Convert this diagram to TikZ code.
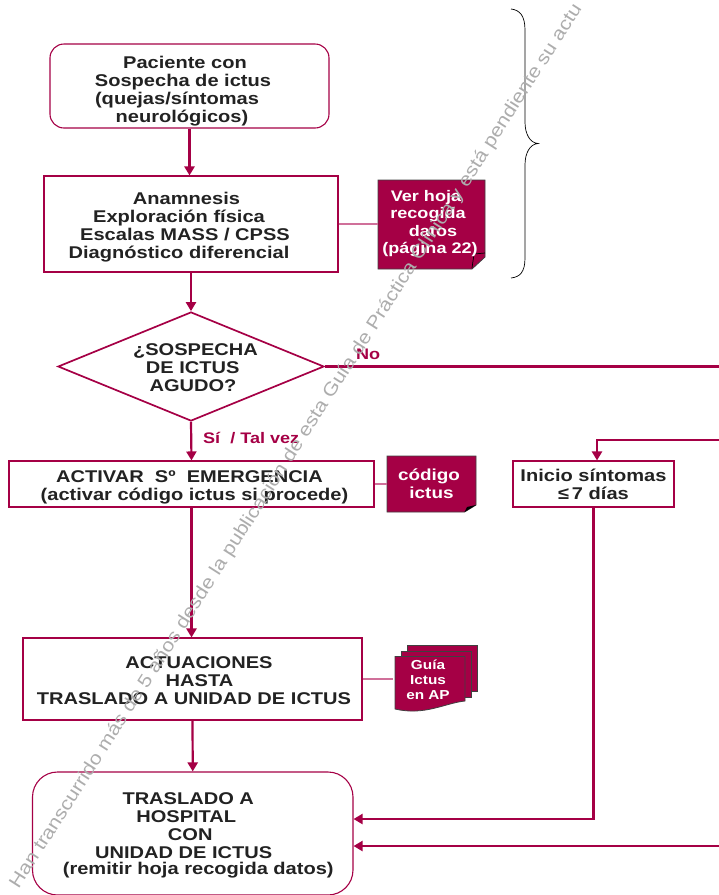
\documentclass[tikz,border=0pt]{standalone}
\usepackage{fontspec}
\setmainfont{Liberation Sans}[FakeStretch=1.18]
\newfontfamily\wmfont{Liberation Sans}[FakeStretch=1.147]
\usetikzlibrary{arrows.meta,shapes.geometric}
\definecolor{mag}{HTML}{A50045}
\definecolor{magl}{HTML}{D0709A}
\definecolor{ink}{HTML}{222222}
\def\tlnlower{0pt}
\newcommand\tln[2]{\makebox[0pt][c]{\kern #1pt\kern #1pt\relax\raisebox{-\tlnlower}[0pt][0pt]{#2}}}
\tikzset{
  x=1pt,y=-1pt,
  every node/.style={font=\bfseries\fontsize{17}{18}\selectfont,text=ink,inner sep=0pt,align=center},
  lowered/.code={\def\tlnlower{#1}},
  flowbox/.style={draw=mag,line width=1.1pt},
  rbox/.style={flowbox,rounded corners=#1},
  decide/.style={diamond,draw=mag,line width=1.7pt},
  flow/.style={draw=mag,line width=2.2pt,-{Triangle[width=10pt,length=9pt]}},
  flowplain/.style={draw=mag,line width=2.2pt},
  tie/.style={draw=magl,line width=1.2pt},
  docfill/.style={fill=mag,draw=black!75,line width=0.8pt},
  doctext/.style={text=white},
  tag/.style={text=mag,anchor=west},
}
\begin{document}
\begin{tikzpicture}
\useasboundingbox (0,0) rectangle (719,895);
% boxes
\node (paciente) [rbox=14pt,minimum width=279pt,minimum height=84pt,lowered=9.5pt] at (189.5,86) {\tln{-4.5}{Paciente con}\\\tln{-6.5}{Sospecha de ictus}\\\tln{-12.5}{(quejas/síntomas}\\\tln{-7.5}{neurológicos)}};
\node (anamnesis) [flowbox,minimum width=294pt,minimum height=96pt,lowered=7pt] at (191,224) {\tln{-4.5}{Anamnesis}\\\tln{-12}{Exploración física}\\\tln{-6}{Escalas MASS / CPSS}\\\tln{-12}{Diagnóstico diferencial}};
\node (sospecha) [decide,minimum width=266pt,minimum height=109pt,lowered=7pt] at (191,366.5) {\tln{4.5}{¿SOSPECHA}\\\tln{1.7}{DE ICTUS}\\\tln{2}{AGUDO?}};
\node (activar) [flowbox,minimum width=365pt,minimum height=46pt,lowered=7.5pt] at (191.5,484) {\tln{-2}{ACTIVAR\ \ Sº\ \ EMERGENCIA}\\\tln{3}{(activar código ictus si procede)}};
\node (inicio) [flowbox,minimum width=161pt,minimum height=46pt] at (593.5,484) {Inicio síntomas\\≤\,7 días};
\node (actuaciones) [flowbox,minimum width=339pt,minimum height=82pt,lowered=7pt] at (192.5,679) {\tln{6.5}{ACTUACIONES}\\\tln{7}{HASTA}\\\tln{1.5}{TRASLADO A UNIDAD DE ICTUS}};
\node (hospital) [rbox=25pt,minimum width=320.5pt,minimum height=123pt,lowered=6pt] at (192.75,833.5) {\tln{-4.5}{TRASLADO A}\\\tln{-6.5}{HOSPITAL}\\\tln{-2.5}{CON}\\\tln{-9}{UNIDAD DE ICTUS}\\[-1.5pt]\tln{5.5}{(remitir hoja recogida datos)}};
% documents
\path[docfill] (378,180) -- (485,180) -- (485,257) -- (472,269) -- (378,269) -- cycle;
\draw[black,line width=0.7pt] (472,268) -- (474,254) -- (485,253);
\node (hoja) [doctext,font=\bfseries\fontsize{15.3}{17.3}\selectfont,minimum width=107pt,minimum height=89pt,lowered=5.5pt] at (431.5,222) {\tln{-5.5}{Ver hoja}\\\tln{-3.5}{recogida}\\\tln{1.5}{datos}\\\tln{-1.5}{(página 22)}};
\path[docfill] (387,456) -- (476,456) -- (476,505) -- (464.5,512) -- (387,512) -- cycle;
\path[fill=black] (464.5,512) -- (467,507) -- (476,505) -- cycle;
\node (codigo) [doctext,minimum width=89pt,minimum height=56pt,font=\bfseries\fontsize{16}{18}\selectfont,lowered=6pt] at (431.5,483) {\tln{-2.5}{código}\\\tln{0}{ictus}};
\path[docfill] (407,645) -- (477,645) -- (477,691) -- (407,691) -- cycle;
\path[docfill] (401,651) -- (471,651) -- (471,697) -- (401,697) -- cycle;
\path[docfill] (395,656.5) -- (465,656.5) -- (465,701) .. controls (445,703) and (425,716) .. (395,709) -- cycle;
\node (guia) [doctext,minimum width=70pt,minimum height=42pt,font=\bfseries\fontsize{13}{15}\selectfont] at (428,680) {Guía\\Ictus\\en AP};
% ties
\draw[tie] (anamnesis.east) -- (anamnesis.east -| hoja.west);
\draw[tie] (activar.east) -- (activar.east -| codigo.west);
\draw[tie] (actuaciones.east) -- (actuaciones.east -| guia.west);
% flows
\coordinate (noend) at (719,367);
\coordinate (inicioin) at (719,440);
\coordinate (hosp1) at (719,846);
\draw[flow] (paciente.south) -- (paciente.south |- anamnesis.north);
\draw[flow] (anamnesis.south) -- (sospecha.north);
\draw[flow] (sospecha.south) -- (activar.north);
\draw[flow] (activar.south) -- (actuaciones.north -| activar.south);
\draw[flow] (actuaciones.south) -- (hospital.north);
\draw[flowplain] (sospecha.east) -- (sospecha.east -| noend);
\draw[flow] (inicioin) -| ([xshift=3.5pt]inicio.north);
\draw[flow] (inicio.south) |- ([yshift=14.5pt]hospital.east);
\draw[flow] (hosp1) -- ([yshift=-12.5pt]hospital.east);
% branch labels
\node (nolabel) [tag,font=\bfseries\fontsize{15.3}{16}\selectfont] at (356,354) {No};
\node (silabel) [tag,font=\bfseries\fontsize{15.3}{16}\selectfont] at (203,438.5) {Sí\ \ / Tal vez};
% brace
\draw[black,line width=0.7pt] (511,9) .. controls (520,10) and (525,16) .. (525,30) -- (525,122) .. controls (525,134) and (530,143) .. (538,143.5) .. controls (530,144) and (525,153) .. (525,165) -- (525,258) .. controls (525,272) and (520,277) .. (511,278);
% watermark
\node (watermark) [anchor=south west,rotate=57.4,text=black!32,font=\wmfont\fontsize{18.5}{19}\selectfont] at (22,892) {Han transcurrido más de 5 años desde la publicación de esta Guía de Práctica Clínica y está pendiente su actu};
\end{tikzpicture}
\end{document}
